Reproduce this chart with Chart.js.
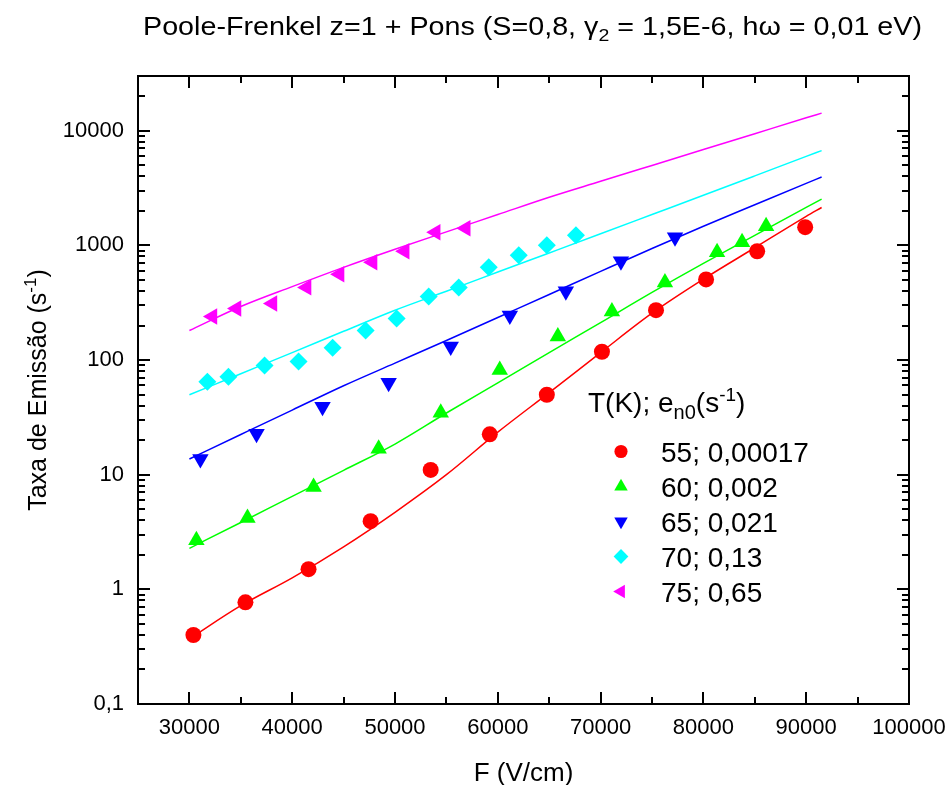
<!DOCTYPE html>
<html>
<head>
<meta charset="utf-8">
<script src="https://cdn.jsdelivr.net/npm/chart.js@4.4.1/dist/chart.umd.min.js"></script>
<style>
  html, body { margin: 0; padding: 0; background: #fff; }
  #wrap { width: 950px; height: 785px; }
</style>
</head>
<body>
<div id="wrap"><canvas id="chart" width="950" height="785"></canvas></div>
<script>
// Series labels and colors
const seriesLabels = ['55; 0,00017', '60; 0,002', '65; 0,021', '70; 0,13', '75; 0,65'];
const seriesColors = ['#ff0000', '#00ff00', '#0000ff', '#00ffff', '#ff00ff'];

// Measured points (F in V/cm, emission rate in s^-1)
const f55 = [30390, 35450, 41590, 47630, 53470, 59220, 64770, 70130, 75390, 80260, 85230, 89900];
const e55 = [0.40, 0.77, 1.50, 3.93, 11.0, 22.5, 49.8, 118, 272, 505, 888, 1440];
const f60 = [30680, 35650, 42080, 48410, 54450, 60190, 65840, 71100, 76260, 81330, 83760, 86100];
const e60 = [2.68, 4.18, 7.8, 16.8, 34.7, 82, 160, 265, 475, 871, 1064, 1469];
const f65 = [31070, 36530, 42950, 49380, 55420, 61170, 66620, 71980, 77240];
const e65 = [13.7, 22.7, 39.1, 63.4, 131, 245, 397, 726, 1178];
const f70 = [31750, 33800, 37310, 40620, 43930, 47140, 50160, 53280, 56200, 59120, 62040, 64770, 67600];
const e70 = [64.7, 71.6, 89.4, 96.9, 128, 181, 230, 359, 430, 643, 819, 1002, 1225];
const f75 = [32240, 34580, 38080, 41400, 44610, 47820, 50940, 53960, 56880];
const e75 = [240, 282, 311, 430, 559, 711, 888, 1303, 1413];

// Model curves (Poole-Frenkel + Pons)
const fitF = [30000, 35000, 40000, 45000, 50000, 55000, 60000, 65000, 70000, 75000, 80000, 85000, 90000, 91500];
const fit55 = [0.37, 0.72, 1.26, 2.35, 4.7, 10.0, 23.5, 52, 116, 256, 507, 953, 1790, 2140];
const fit60 = [2.28, 3.83, 6.47, 10.9, 18.5, 34.5, 63.2, 116, 212, 389, 697, 1222, 2148, 2530];
const fit65 = [13.7, 22.4, 36.6, 59.7, 94, 148, 235, 373, 593, 939, 1469, 2261, 3474, 3945];
const fit70 = [49.8, 76, 116, 178, 272, 398, 585, 859, 1262, 1857, 2733, 4036, 5970, 6700];
const fit75 = [181, 293, 437, 643, 925, 1312, 1857, 2630, 3620, 4980, 6850, 9420, 12950, 14230];

// Axis ticks
const xTickValues = [30000, 40000, 50000, 60000, 70000, 80000, 90000, 100000];
const yTickValues = [0.1, 1, 10, 100, 1000, 10000];
const yTickLabels = ['0,1', '1', '10', '100', '1000', '10000'];

const FONT = 'Arial, "Liberation Sans", sans-serif';

const pointSets = [[f55, e55], [f60, e60], [f65, e65], [f70, e70], [f75, e75]];
const fitSets = [fit55, fit60, fit65, fit70, fit75];
const markers = [
  { style: 'circle', rot: 0, r: 8 },
  { style: 'triangle', rot: 0, r: 9.5 },
  { style: 'triangle', rot: 180, r: 9.5 },
  { style: 'rectRot', rot: 0, r: 9 },
  { style: 'triangle', rot: 270, r: 9.5 }
];

const toXY = (xs, ys) => xs.map((v, i) => ({ x: v, y: ys[i] }));

const datasets = [];
pointSets.forEach(([xs, ys], i) => {
  datasets.push({
    label: seriesLabels[i],
    data: toXY(xs, ys),
    showLine: false,
    pointStyle: markers[i].style,
    rotation: markers[i].rot,
    pointRadius: markers[i].r,
    backgroundColor: seriesColors[i],
    borderColor: seriesColors[i],
    borderWidth: 0,
    order: 0
  });
});
fitSets.forEach((ys, i) => {
  datasets.push({
    label: 'fit ' + seriesLabels[i],
    data: toXY(fitF, ys),
    showLine: true,
    pointRadius: 0,
    borderColor: seriesColors[i],
    borderWidth: 1.5,
    cubicInterpolationMode: 'monotone',
    order: 1
  });
});

// Draw a run of text pieces with sub/superscripts
function richWidth(ctx, parts) {
  let w = 0;
  parts.forEach(p => { ctx.font = p.size + 'px ' + FONT; w += ctx.measureText(p.t).width; });
  return w;
}
function drawRich(ctx, parts, x, y) {
  parts.forEach(p => {
    ctx.font = p.size + 'px ' + FONT;
    ctx.fillText(p.t, x, y + (p.dy || 0));
    x += ctx.measureText(p.t).width;
  });
}

function drawMarker(ctx, m, color, x, y, r) {
  ctx.fillStyle = color;
  ctx.strokeStyle = color;
  if (Chart.helpers && Chart.helpers.drawPoint) {
    Chart.helpers.drawPoint(ctx, { pointStyle: m.style, rotation: m.rot, radius: r, borderWidth: 0 }, x, y);
  }
}

const framePlugin = {
  id: 'frame',
  afterDraw(chart) {
    const { ctx, chartArea: a, scales: { x, y } } = chart;
    ctx.save();
    ctx.strokeStyle = '#000';
    ctx.lineWidth = 2;
    ctx.strokeRect(a.left, a.top, a.right - a.left, a.bottom - a.top);

    const seg = (x1, y1, x2, y2) => { ctx.beginPath(); ctx.moveTo(x1, y1); ctx.lineTo(x2, y2); ctx.stroke(); };

    // x ticks (inward, bottom and top)
    for (let v = x.min; v <= x.max; v += 5000) {
      const px = Math.round(x.getPixelForValue(v));
      const len = v % 10000 === 0 ? 12 : 7;
      seg(px, a.bottom, px, a.bottom - len);
      seg(px, a.top, px, a.top + len);
    }
    // y ticks (log decades, inward, left and right)
    const e0 = Math.floor(Math.log10(y.min));
    const e1 = Math.ceil(Math.log10(y.max));
    for (let e = e0; e <= e1; e++) {
      for (let m = 1; m <= 9; m++) {
        const v = m * Math.pow(10, e);
        if (v < y.min * 0.999 || v > y.max * 1.001) continue;
        const py = Math.round(y.getPixelForValue(v));
        const len = m === 1 ? 12 : 7;
        seg(a.left, py, a.left + len, py);
        seg(a.right, py, a.right - len, py);
      }
    }

    ctx.fillStyle = '#000';
    // Title
    const title = [
      { t: 'Poole-Frenkel z=1 + Pons (S=0,8, ', size: 25 },
      { t: 'γ', size: 25 },
      { t: '2', size: 17, dy: 6 },
      { t: ' = 1,5E-6, hω = 0,01 eV)', size: 25 }
    ];
    ctx.textBaseline = 'alphabetic';
    ctx.textAlign = 'left';
    const tw = richWidth(ctx, title);
    ctx.save();
    ctx.translate(143, 35);
    ctx.scale(779 / tw, 1);
    drawRich(ctx, title, 0, 0);
    ctx.restore();

    // X axis title
    ctx.font = '26px ' + FONT;
    ctx.textAlign = 'center';
    ctx.textBaseline = 'alphabetic';
    ctx.fillText('F (V/cm)', (a.left + a.right) / 2, 781);

    // Y axis title
    const ytitle = [
      { t: 'Taxa de Emissão (s', size: 25 },
      { t: '-1', size: 17, dy: -10 },
      { t: ')', size: 25 }
    ];
    ctx.textAlign = 'left';
    const yw = richWidth(ctx, ytitle);
    ctx.save();
    ctx.translate(46, (a.top + a.bottom) / 2);
    ctx.rotate(-Math.PI / 2);
    drawRich(ctx, ytitle, -yw / 2, 0);
    ctx.restore();

    // Legend
    drawRich(ctx, [
      { t: 'T(K); e', size: 28 },
      { t: 'n0', size: 20, dy: 7 },
      { t: '(s', size: 28 },
      { t: '-1', size: 19, dy: -11 },
      { t: ')', size: 28 }
    ], 588, 412);
    seriesLabels.forEach((lab, i) => {
      const cy = 451.5 + i * 35;
      drawMarker(ctx, markers[i], seriesColors[i], 621, cy, markers[i].r * 0.82);
      ctx.fillStyle = '#000';
      ctx.font = '28px ' + FONT;
      ctx.fillText(lab, 661, cy + 10);
    });
    ctx.restore();
  }
};

new Chart(document.getElementById('chart'), {
  type: 'scatter',
  data: { datasets },
  options: {
    responsive: false,
    animation: false,
    devicePixelRatio: 1,
    layout: { padding: { top: 76, right: 41, bottom: 0, left: 0 } },
    plugins: { legend: { display: false }, tooltip: { enabled: false }, title: { display: false } },
    scales: {
      x: {
        type: 'linear',
        min: 25000,
        max: 100000,
        grid: { display: false, drawTicks: false },
        border: { display: false },
        afterBuildTicks: s => { s.ticks = xTickValues.map(v => ({ value: v })); },
        afterFit: s => { s.height = 81; s.paddingLeft = 0; s.paddingRight = 0; },
        ticks: {
          color: '#000',
          font: { family: FONT, size: 22 },
          padding: 11,
          maxRotation: 0,
          autoSkip: false,
          callback: v => String(v)
        }
      },
      y: {
        type: 'logarithmic',
        min: 0.1,
        max: 30000,
        grid: { display: false, drawTicks: false },
        border: { display: false },
        afterBuildTicks: s => { s.ticks = yTickValues.map(v => ({ value: v })); },
        afterFit: s => { s.width = 138; s.paddingTop = 0; s.paddingBottom = 0; },
        ticks: {
          color: '#000',
          font: { family: FONT, size: 22 },
          padding: 14,
          autoSkip: false,
          callback: v => yTickLabels[yTickValues.indexOf(v)]
        }
      }
    }
  },
  plugins: [framePlugin]
});
</script>
</body>
</html>
